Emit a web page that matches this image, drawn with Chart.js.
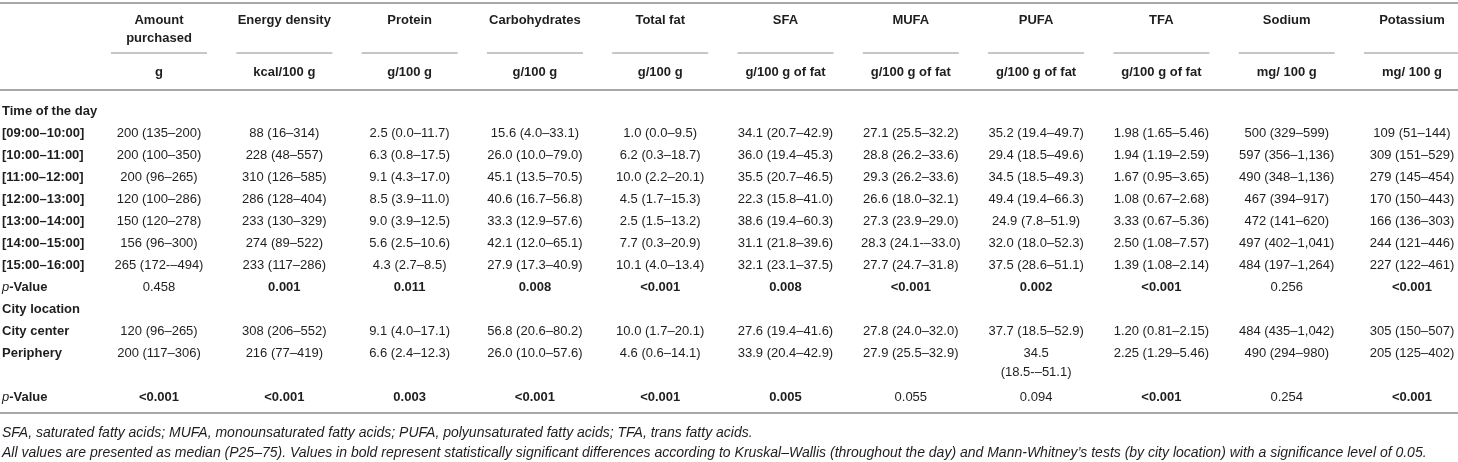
<!DOCTYPE html>
<html>
<head>
<meta charset="utf-8">
<title>Nutrient composition by time of day and city location</title>
<script src="https://cdn.jsdelivr.net/npm/chart.js@4.4.1/dist/chart.umd.min.js"></script>
<style>
  html, body { margin: 0; padding: 0; background: #fff; }
  #wrap { width: 1458px; height: 462px; position: relative; }
</style>
</head>
<body>
<div id="wrap"><canvas id="chart-table"></canvas></div>
<script>
// Columns (variables) and their units
const colNames = ['Amount purchased', 'Energy density', 'Protein', 'Carbohydrates', 'Total fat',
  'SFA', 'MUFA', 'PUFA', 'TFA', 'Sodium', 'Potassium'];
const colUnits = ['g', 'kcal/100 g', 'g/100 g', 'g/100 g', 'g/100 g',
  'g/100 g of fat', 'g/100 g of fat', 'g/100 g of fat', 'g/100 g of fat', 'mg/ 100 g', 'mg/ 100 g'];

// Rows: median (P25–75)
const slot0910 = ['200 (135–200)', '88 (16–314)', '2.5 (0.0–11.7)', '15.6 (4.0–33.1)', '1.0 (0.0–9.5)',
  '34.1 (20.7–42.9)', '27.1 (25.5–32.2)', '35.2 (19.4–49.7)', '1.98 (1.65–5.46)', '500 (329–599)', '109 (51–144)'];
const slot1011 = ['200 (100–350)', '228 (48–557)', '6.3 (0.8–17.5)', '26.0 (10.0–79.0)', '6.2 (0.3–18.7)',
  '36.0 (19.4–45.3)', '28.8 (26.2–33.6)', '29.4 (18.5–49.6)', '1.94 (1.19–2.59)', '597 (356–1,136)', '309 (151–529)'];
const slot1112 = ['200 (96–265)', '310 (126–585)', '9.1 (4.3–17.0)', '45.1 (13.5–70.5)', '10.0 (2.2–20.1)',
  '35.5 (20.7–46.5)', '29.3 (26.2–33.6)', '34.5 (18.5–49.3)', '1.67 (0.95–3.65)', '490 (348–1,136)', '279 (145–454)'];
const slot1213 = ['120 (100–286)', '286 (128–404)', '8.5 (3.9–11.0)', '40.6 (16.7–56.8)', '4.5 (1.7–15.3)',
  '22.3 (15.8–41.0)', '26.6 (18.0–32.1)', '49.4 (19.4–66.3)', '1.08 (0.67–2.68)', '467 (394–917)', '170 (150–443)'];
const slot1314 = ['150 (120–278)', '233 (130–329)', '9.0 (3.9–12.5)', '33.3 (12.9–57.6)', '2.5 (1.5–13.2)',
  '38.6 (19.4–60.3)', '27.3 (23.9–29.0)', '24.9 (7.8–51.9)', '3.33 (0.67–5.36)', '472 (141–620)', '166 (136–303)'];
const slot1415 = ['156 (96–300)', '274 (89–522)', '5.6 (2.5–10.6)', '42.1 (12.0–65.1)', '7.7 (0.3–20.9)',
  '31.1 (21.8–39.6)', '28.3 (24.1-–33.0)', '32.0 (18.0–52.3)', '2.50 (1.08–7.57)', '497 (402–1,041)', '244 (121–446)'];
const slot1516 = ['265 (172-–494)', '233 (117–286)', '4.3 (2.7–8.5)', '27.9 (17.3–40.9)', '10.1 (4.0–13.4)',
  '32.1 (23.1–37.5)', '27.7 (24.7–31.8)', '37.5 (28.6–51.1)', '1.39 (1.08–2.14)', '484 (197–1,264)', '227 (122–461)'];
const timePValues = ['0.458', '0.001', '0.011', '0.008', '<0.001', '0.008', '<0.001', '0.002', '<0.001', '0.256', '<0.001'];

const cityCenter = ['120 (96–265)', '308 (206–552)', '9.1 (4.0–17.1)', '56.8 (20.6–80.2)', '10.0 (1.7–20.1)',
  '27.6 (19.4–41.6)', '27.8 (24.0–32.0)', '37.7 (18.5–52.9)', '1.20 (0.81–2.15)', '484 (435–1,042)', '305 (150–507)'];
const periphery = ['200 (117–306)', '216 (77–419)', '6.6 (2.4–12.3)', '26.0 (10.0–57.6)', '4.6 (0.6–14.1)',
  '33.9 (20.4–42.9)', '27.9 (25.5–32.9)', ['34.5', '(18.5-–51.1)'], '2.25 (1.29–5.46)', '490 (294–980)', '205 (125–402)'];
const cityPValues = ['<0.001', '<0.001', '0.003', '<0.001', '<0.001', '0.005', '0.055', '0.094', '<0.001', '0.254', '<0.001'];

// Row labels (the blank one holds the wrapped second line of a cell above)
const rowLabels = ['Time of the day', '[09:00–10:00]', '[10:00–11:00]', '[11:00–12:00]', '[12:00–13:00]',
  '[13:00–14:00]', '[14:00–15:00]', '[15:00–16:00]', 'p-Value', 'City location', 'City center', 'Periphery', '', 'p-Value'];
const rowValues = [null, slot0910, slot1011, slot1112, slot1213, slot1314, slot1415, slot1516, timePValues,
  null, cityCenter, periphery, null, cityPValues];
const pValueRows = [timePValues, cityPValues];

const footnotes = [
  'SFA, saturated fatty acids; MUFA, monounsaturated fatty acids; PUFA, polyunsaturated fatty acids; TFA, trans fatty acids.',
  'All values are presented as median (P25–75). Values in bold represent statistically significant differences according to Kruskal–Wallis (throughout the day) and Mann-Whitney’s tests (by city location) with a significance level of 0.05.'
];

const FAMILY = "'Liberation Sans', Arial, Helvetica, sans-serif";
const INK = '#1e1e1e';
const RULE = '#a8a8a8';
const SUBRULE = '#c6c6c6';

function font(style, size) { return style + ' ' + size + 'px ' + FAMILY; }

function isSignificant(p) {
  return p.trim().charAt(0) === '<' || parseFloat(p) < 0.05;
}

function wrapWords(ctx, text, maxWidth) {
  const words = text.split(' ');
  const lines = [];
  let line = '';
  words.forEach(w => {
    const test = line ? line + ' ' + w : w;
    if (line && ctx.measureText(test).width > maxWidth) {
      lines.push(line);
      line = w;
    } else {
      line = test;
    }
  });
  lines.push(line);
  return lines;
}

function hline(ctx, x1, x2, y, color, width) {
  ctx.save();
  ctx.strokeStyle = color;
  ctx.lineWidth = width;
  ctx.beginPath();
  ctx.moveTo(x1, y);
  ctx.lineTo(x2, y);
  ctx.stroke();
  ctx.restore();
}

// Draws the table: header, row labels and cells positioned by the chart's scales
const tablePlugin = {
  id: 'tableText',
  afterDraw(chart) {
    const ctx = chart.ctx;
    const xs = chart.scales.x;
    const ys = chart.scales.y;
    const area = chart.chartArea;
    const W = chart.width;

    ctx.save();
    ctx.fillStyle = INK;
    ctx.textBaseline = 'middle';

    // horizontal rules
    hline(ctx, 0, W, area.top - 97, RULE, 2);
    hline(ctx, 0, W, area.top - 10, RULE, 2);
    hline(ctx, 0, W, area.bottom + 5, RULE, 2);

    // column headers + units
    colNames.forEach((name, i) => {
      const cx = xs.getPixelForValue(i);
      ctx.textAlign = 'center';
      ctx.font = font('bold', 13);
      const lines = wrapWords(ctx, name, 100);
      lines.forEach((ln, k) => ctx.fillText(ln, cx, area.top - 80 + k * 18));
      hline(ctx, cx - 48, cx + 48, area.top - 47, SUBRULE, 2);
      ctx.fillText(colUnits[i], cx, area.top - 28);
    });

    // rows
    rowLabels.forEach((label, r) => {
      const cy = ys.getPixelForValue(r);
      ctx.textAlign = 'left';
      if (label === 'p-Value') {
        ctx.font = font('italic', 13);
        ctx.fillText('p', 2, cy);
        const pw = ctx.measureText('p').width;
        ctx.font = font('bold', 13);
        ctx.fillText('-Value', 2 + pw, cy);
      } else if (label) {
        ctx.font = font('bold', 13);
        ctx.fillText(label, 2, cy);
      }

      const cells = rowValues[r];
      if (!cells) return;
      const isP = pValueRows.includes(cells);
      ctx.textAlign = 'center';
      cells.forEach((cell, c) => {
        const cx = xs.getPixelForValue(c);
        const lines = Array.isArray(cell) ? cell : [cell];
        ctx.font = (isP && isSignificant(lines[0])) ? font('bold', 13) : font('normal', 13);
        lines.forEach((ln, k) => ctx.fillText(ln, cx, cy + k * 19));
      });
    });

    // footnotes
    ctx.textAlign = 'left';
    ctx.font = font('italic', 14);
    footnotes.forEach((t, k) => ctx.fillText(t, 2, area.bottom + 25 + k * 20));

    ctx.restore();
  }
};

const ctx = document.getElementById('chart-table').getContext('2d');
const tableChart = new Chart(ctx, {
  type: 'bar',
  data: { labels: colNames, datasets: [] },
  options: {
    responsive: true,
    maintainAspectRatio: false,
    animation: false,
    events: [],
    layout: { padding: { left: 159, right: 46, top: 100, bottom: 54 } },
    plugins: { legend: { display: false }, tooltip: { enabled: false } },
    scales: {
      x: { type: 'category', labels: colNames, offset: false, display: false },
      y: { type: 'category', labels: rowLabels, offset: true, display: false }
    }
  },
  plugins: [tablePlugin]
});
</script>
</body>
</html>
